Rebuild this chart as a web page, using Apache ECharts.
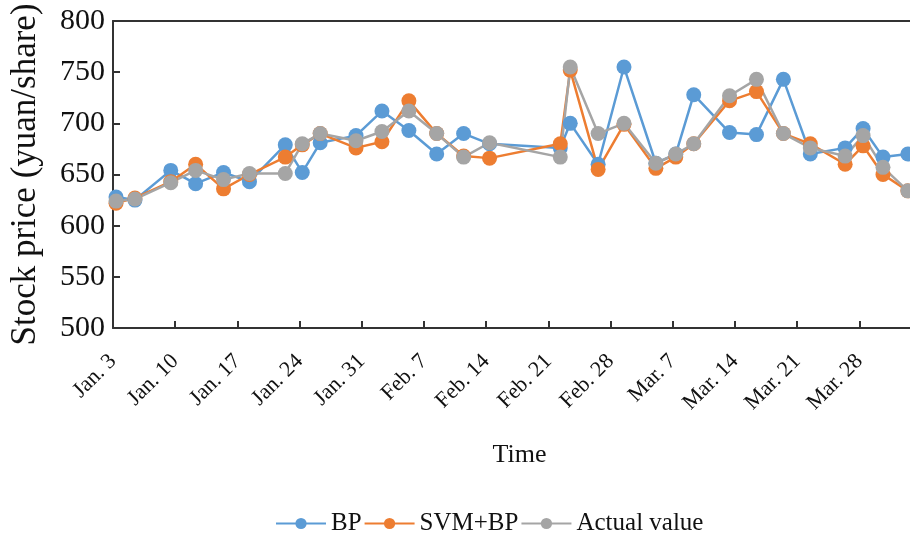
<!DOCTYPE html>
<html>
<head>
<meta charset="utf-8">
<script src="https://cdn.jsdelivr.net/npm/echarts@6/dist/echarts.min.js"></script>
<style>html,body{margin:0;padding:0;background:#fff}#c{width:910px;height:533px}</style>
</head>
<body>
<div id="c"></div>
<script>
// Days since Jan. 3 for each observation
const days = [0.34, 2.47, 6.5, 9.3, 12.44, 15.36, 19.39, 21.3, 23.32, 27.35, 30.27, 33.3, 36.43, 39.46, 42.38,
  50.34, 51.46, 54.6, 57.51, 61.1, 63.34, 65.36, 69.39, 72.42, 75.45, 78.48, 82.4, 84.42, 86.66, 89.46];
const bpValues = [628, 625, 654, 641, 652, 643, 679, 652, 681, 688, 712, 693, 670, 690, 680,
  676, 700, 660, 755, 661, 670, 728, 691, 689, 743, 670, 676, 695, 667, 670];
const svmBpValues = [622, 627, 643, 660, 636, 650, 667, 679, 690, 676, 682, 722, 690, 668, 666,
  680, 752, 655, 699, 656, 667, 680, 722, 731, 690, 680, 660, 678, 650, 634];
const actualValues = [624, 626, 642, 654, 645, 651, 651, 680, 690, 683, 692, 712, 690, 667, 681,
  667, 755, 690, 700, 661, 670, 680, 727, 743, 690, 676, 668, 688, 657, 634];
const tickLabels = ['Jan. 3', 'Jan. 10', 'Jan. 17', 'Jan. 24', 'Jan. 31', 'Feb. 7', 'Feb. 14',
  'Feb. 21', 'Feb. 28', 'Mar. 7', 'Mar. 14', 'Mar. 21', 'Mar. 28'];
const seriesNames = ['BP', 'SVM+BP', 'Actual value'];
const colors = ['#5B9BD5', '#ED7D31', '#A5A5A5'];

const serif = '"Liberation Serif", "DejaVu Serif", serif';
const pair = arr => arr.map((v, i) => [days[i], v]);

const chart = echarts.init(document.getElementById('c'), null, {renderer: 'canvas'});
chart.setOption({
  animation: false,
  color: colors,
  grid: {left: 110, right: 0, top: 21, bottom: 205, containLabel: false},
  legend: {
    top: 506, left: 270,
    itemWidth: 50, itemHeight: 14, itemGap: 2,
    textStyle: {fontFamily: serif, fontSize: 25, color: '#111'},
    data: seriesNames
  },
  xAxis: [{
    type: 'value', min: 0, max: 89.7, interval: 7,
    name: 'Time', nameLocation: 'middle', nameGap: 114,
    nameTextStyle: {fontFamily: serif, fontSize: 26, color: '#111', padding: [0, 0, 0, 16]},
    axisLine: {lineStyle: {color: '#333', width: 2}},
    axisTick: {inside: true, length: 7, lineStyle: {color: '#333', width: 2}},
    splitLine: {show: false},
    axisLabel: {
      rotate: 45, margin: 30, showMaxLabel: false,
      fontFamily: serif, fontSize: 22, color: '#111',
      formatter: v => {
        const i = Math.round(v / 7);
        return Math.abs(v - i * 7) < 1e-6 && tickLabels[i] ? tickLabels[i] : '';
      }
    }
  }, {
    type: 'value', position: 'top', min: 0, max: 89.7,
    axisLine: {show: true, onZero: false, lineStyle: {color: '#333', width: 2}},
    axisTick: {show: false}, axisLabel: {show: false}, splitLine: {show: false}
  }],
  yAxis: {
    type: 'value', min: 500, max: 800, interval: 50,
    name: 'Stock price (yuan/share)', nameLocation: 'middle', nameGap: 70, nameRotate: 90,
    nameTextStyle: {fontFamily: serif, fontSize: 35, color: '#111'},
    axisLine: {show: true, lineStyle: {color: '#333', width: 2}},
    axisTick: {inside: true, length: 7, lineStyle: {color: '#333', width: 2}},
    splitLine: {show: false},
    axisLabel: {fontFamily: serif, fontSize: 30, color: '#111', margin: 8}
  },
  series: [bpValues, svmBpValues, actualValues].map((arr, k) => ({
    name: seriesNames[k], type: 'line', data: pair(arr),
    symbol: 'circle', symbolSize: 15,
    lineStyle: {width: 2.5, color: colors[k]},
    itemStyle: {color: colors[k]}
  }))
});
</script>
</body>
</html>
